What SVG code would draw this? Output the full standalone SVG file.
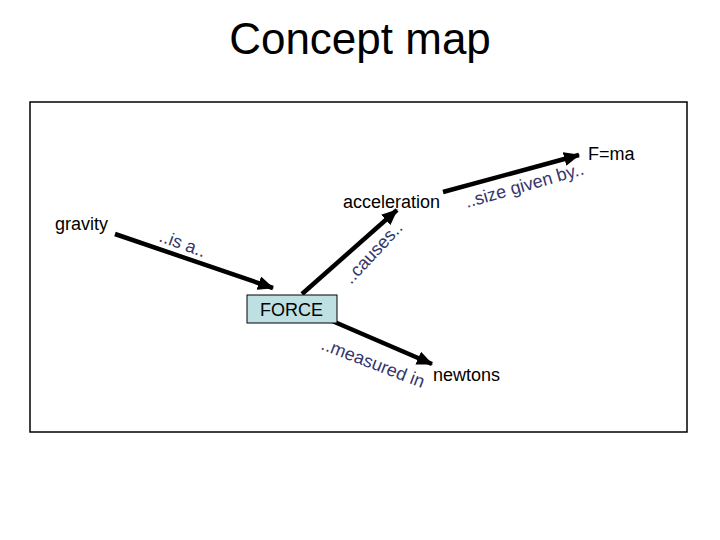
<svg xmlns="http://www.w3.org/2000/svg" width="720" height="540" viewBox="0 0 720 540">
<defs>
<style>
.node{font-family:"Liberation Sans",Arial,sans-serif;font-size:18px;fill:#000}
.lbl{font-family:"Liberation Sans",Arial,sans-serif;font-size:18px;fill:#35356e}
.conn{stroke:#000;stroke-width:4.5;fill:none}
</style>
<marker id="ah" markerUnits="userSpaceOnUse" markerWidth="16" markerHeight="14" refX="15" refY="7" orient="auto">
<path d="M0,0 L16,7 L0,14 Z" fill="#000"/>
</marker>
</defs>
<rect width="720" height="540" fill="#fff"/>
<text x="360" y="54" text-anchor="middle" font-family="Liberation Sans, Arial, sans-serif" font-size="44" fill="#000">Concept map</text>
<rect x="30" y="102" width="657" height="330" fill="none" stroke="#000" stroke-width="1.5"/>
<g id="connectors">
<line class="conn" x1="115" y1="234" x2="273" y2="288" marker-end="url(#ah)"/>
<line class="conn" x1="302" y1="294" x2="397" y2="210" marker-end="url(#ah)"/>
<line class="conn" x1="443" y1="192" x2="579" y2="155" marker-end="url(#ah)"/>
<line class="conn" x1="323" y1="317" x2="432" y2="364" marker-end="url(#ah)"/>
<text class="lbl" transform="translate(158,241) rotate(20)">..is a..</text>
<text class="lbl" transform="translate(351,285) rotate(-47)">..causes..</text>
<text class="lbl" transform="translate(467,208) rotate(-16)">..size given by..</text>
<text class="lbl" transform="translate(320,349) rotate(21)">..measured in</text>
</g>
<g id="gravity"><text class="node" x="55" y="230">gravity</text></g>
<g id="force">
<rect x="247" y="295" width="90" height="28" fill="#bfe0e3" stroke="#000" stroke-width="1"/>
<text class="node" x="260" y="316">FORCE</text>
</g>
<g id="acceleration"><text class="node" x="343" y="208">acceleration</text></g>
<g id="fma"><text class="node" x="588" y="160">F=ma</text></g>
<g id="newtons"><text class="node" x="433" y="381">newtons</text></g>
</svg>
